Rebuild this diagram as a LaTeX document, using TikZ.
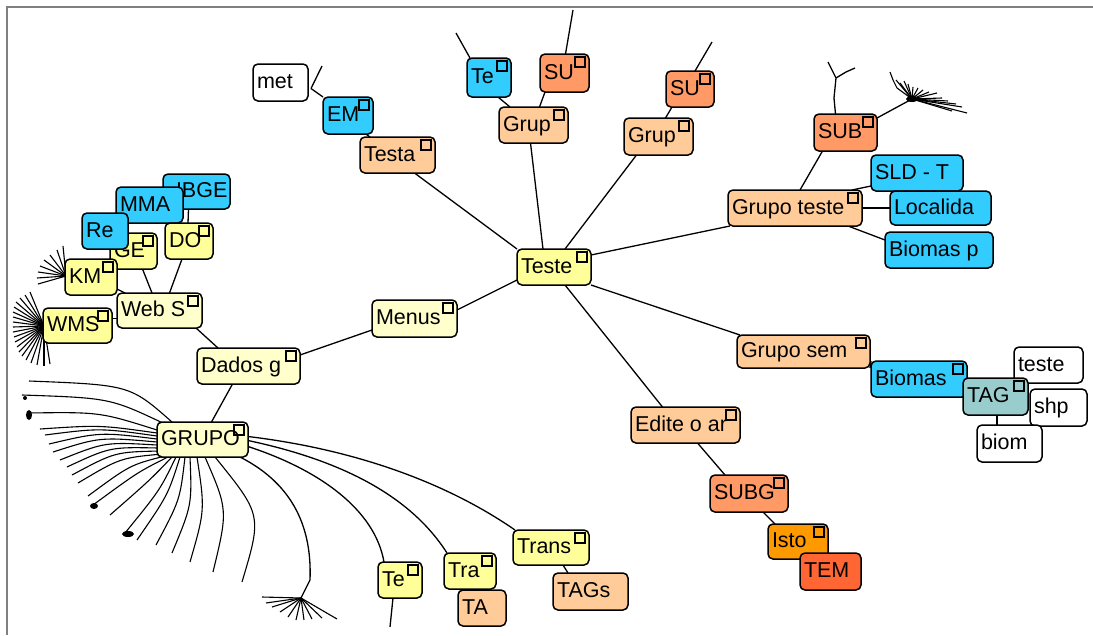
\documentclass[tikz,border=0pt]{standalone}
\usepackage{fontspec}
\setmainfont{Liberation Sans}
\pgfdeclarelayer{bg}
\pgfsetlayers{bg,main}
\definecolor{cyel}{HTML}{FFFF99}
\definecolor{cpale}{HTML}{FFFFCC}
\definecolor{clor}{HTML}{FFCC99}
\definecolor{corg}{HTML}{FF9966}
\definecolor{cblu}{HTML}{33CCFF}
\definecolor{cisto}{HTML}{FF9900}
\definecolor{ctem}{HTML}{FF6633}
\definecolor{ctag}{HTML}{99CCCC}
\definecolor{cframe}{HTML}{808080}
\tikzset{
  mm/.style={draw=black, line width=1.5pt, rounded corners=5pt, inner xsep=4pt, inner ysep=0pt,
    outer sep=0pt, text height=16pt, text depth=4pt, align=flush left,
    font=\fontsize{21.5pt}{24pt}\selectfont},
  ic/.style={draw=black, line width=1.3pt},
  ln/.style={draw=black, line width=1.3pt},
  fan/.style={draw=black, line width=1.1pt},
}
\newcommand\mmbox[8]{%
  \pgfmathsetmacro\mmH{#5-#3}%
  \pgfmathsetmacro\mmT{#4-#2-8}%
  \node[mm, fill=#6, minimum height=\mmH pt, text width=\mmT pt, anchor=north west] (#1) at (#2,#3) {#7};%
  \ifnum#8=1 \draw[ic] ({#4-14},{#3+3}) rectangle ({#4-4},{#3+13});\fi
}
\begin{document}
\begin{tikzpicture}[x=1pt,y=-1pt]
\useasboundingbox (0,0) rectangle (1093,635);

% ---------- boxes ----------
\mmbox{teste}{517}{249}{591}{285}{cyel}{Teste}{1}
\mmbox{testa}{360}{137}{435}{173}{clor}{Testa}{1}
\mmbox{em}{323}{97}{373}{134}{cblu}{EM}{1}
\mmbox{met}{253}{64}{308}{101}{white}{met}{0}
\mmbox{teb}{467}{58}{511}{97}{cblu}{Te}{1}
\mmbox{sua}{540}{54}{589}{92}{corg}{SU}{1}
\mmbox{grupa}{499}{107}{568}{143}{clor}{Grup}{1}
\mmbox{sub2}{666}{71}{714}{107}{corg}{SU}{1}
\mmbox{grupb}{624}{118}{693}{155}{clor}{Grup}{1}
\mmbox{subx}{814}{114}{877}{151}{corg}{SUB}{1}
\mmbox{gteste}{728}{190}{862}{226}{clor}{Grupo teste}{1}
\mmbox{sld}{871}{155}{963}{191}{cblu}{SLD - T}{0}
\mmbox{loc}{890}{191}{991}{225}{cblu}{Localida}{0}
\mmbox{biop}{885}{232}{993}{268}{cblu}{Biomas p}{0}
\mmbox{gsem}{737}{335}{870}{368}{clor}{Grupo sem}{1}
\mmbox{bio}{871}{361}{967}{397}{cblu}{Biomas}{1}
\mmbox{tst}{1014}{347}{1083}{383}{white}{teste}{0}
\mmbox{tag}{963}{378}{1028}{415}{ctag}{TAG}{1}
\mmbox{shp}{1030}{389}{1087}{426}{white}{shp}{0}
\mmbox{biom}{977}{425}{1042}{462}{white}{biom}{0}
\mmbox{edite}{631}{407}{740}{443}{clor}{Edite o ar}{1}
\mmbox{subg}{710}{475}{788}{512}{corg}{SUBG}{1}
\mmbox{isto}{768}{524}{828}{559}{cisto}{Isto}{1}
\mmbox{tem}{800}{553}{861}{590}{ctem}{TEM}{0}
\mmbox{menus}{372}{300}{457}{337}{cpale}{Menus}{1}
\mmbox{dados}{197}{348}{300}{384}{cpale}{Dados g}{1}
\mmbox{ibge}{163}{174}{230}{209}{cblu}{\hspace*{9pt}IBGE}{0}
\mmbox{mma}{116}{187}{183}{223}{cblu}{MMA}{0}
\mmbox{ge}{110}{233}{157}{269}{cyel}{GE}{1}
\mmbox{km}{65}{259}{117}{295}{cyel}{KM}{1}
\mmbox{re}{82}{213}{128}{249}{cblu}{Re}{0}
\mmbox{do}{165}{223}{213}{259}{cyel}{DO}{1}
\mmbox{webs}{117}{293}{202}{328}{cpale}{Web S}{1}
\mmbox{wms}{43}{308}{112}{343}{cyel}{WMS}{1}
\mmbox{grupo}{157}{422}{248}{457}{cpale}{GRUPO}{1}
\mmbox{tec}{378}{562}{422}{598}{cyel}{Te}{1}
\mmbox{tra}{444}{553}{496}{589}{cyel}{Tra}{1}
\mmbox{ta}{458}{590}{506}{626}{clor}{TA}{0}
\mmbox{trans}{513}{530}{589}{565}{cyel}{Trans}{1}
\mmbox{tags}{553}{573}{628}{610}{clor}{TAGs}{0}

% ---------- connectors ----------
\begin{pgfonlayer}{bg}
\fill[white] (0,0) rectangle (1093,635);
\draw[cframe, line width=2pt] (7,635) -- (7,7) -- (1093,7);
\coordinate (c1) at (456,33);
\coordinate (c2) at (573,10);
\coordinate (c3) at (712,42);
\coordinate (c5) at (322,66);
\coordinate (c6) at (390,627);
\coordinate (y0) at (836,78);
\coordinate (y1) at (828,62);
\coordinate (y2) at (855,68);
\coordinate (f0) at (912,99);
\coordinate (f1) at (301,598);
\coordinate (fk) at (66,276);
\coordinate (fw) at (44,326);

\draw[ln] ([xshift=17pt]testa.south) -- (teste.north west);
\draw[ln] ([xshift=-3pt]grupa.south) -- ([xshift=-11pt]teste.north);
\draw[ln] ([xshift=-22pt]grupb.south) -- ([xshift=11pt]teste.north);
\draw[ln] ([yshift=-6pt]teste.north east) -- ([xshift=2pt]gteste.south west);
\draw[ln] ([yshift=5pt]teste.south west) -- ([yshift=-10pt]menus.north east);
\draw[ln] (teste.south east) -- ([xshift=3pt]gsem.north west);
\draw[ln] ([xshift=11pt]teste.south) -- ([xshift=-23pt]edite.north);

\draw[ln] ([xshift=9pt]teb.south) -- ([xshift=11pt]grupa.north west);
\draw[ln] ([xshift=5pt]sua.south west) -- ([xshift=6pt]grupa.north);
\draw[ln] ([xshift=3pt]teb.north west) -- (c1);
\draw[ln] ([xshift=1pt]sua.north) -- (c2);
\draw[ln] ([xshift=6pt]sub2.south west) -- ([xshift=7pt]grupb.north);
\draw[ln] ([xshift=5pt]sub2.north) -- (c3);

\draw[ln] ([xshift=-7pt]em.south east) -- ([xshift=10pt]testa.north west);
\draw[ln] (em.north west) -- ([xshift=3pt,yshift=-6pt]met.east);
\draw[ln] ([xshift=3pt,yshift=-6pt]met.east) -- (c5);

\draw[ln] ([xshift=-23pt]subx.south) -- ([xshift=5pt]gteste.north);
\draw[ln] ([xshift=-10pt]gteste.north east) -- ([yshift=5pt]sld.south west);
\draw[ln] (gteste.east) -- (loc.west);
\draw[ln] ([xshift=-14pt]gteste.south east) -- ([yshift=10pt]biop.west);
\draw[ln] ([xshift=-10pt]subx.north) -- (834,98) -- (y0) -- (y1);
\draw[ln] (y0) -- (846,72) -- (y2);
\draw[ln] ([yshift=-4pt]subx.north east) -- (f0);
\draw[fan] (f0) -- (897,88) -- (893,80) -- (890,72);
\foreach \p in {(896,80),(900,83),(904,81),(908,84),(913,87),(918,88),(923,90),(929,92),(937,93),(942,98),(948,101),(956,104),(962,107),(967,113),(952,111)}
  \draw[fan] (f0) -- \p;
\fill (f0) ellipse (6 and 3);

\draw[ln] (gsem.south east) -- (bio.north west);
\draw[ln] (bio.east) -- (tag.west);
\draw[ln] (tag.north east) -- (tst.south west);
\draw[ln] ([xshift=1.5pt]tag.south) -- ([xshift=-12.5pt]biom.north);

\draw[ln] ([xshift=12pt]edite.south) -- ([xshift=15pt]subg.north west);
\draw[ln] ([xshift=14pt]subg.south) -- ([xshift=7pt]isto.north west);
\draw[ln] (isto) -- (tem);

\draw[ln] ([yshift=-7pt]dados.north east) -- ([yshift=7pt]menus.south west);
\draw[ln] ([xshift=-6pt]webs.south east) -- ([xshift=21pt]dados.north west);
\draw[ln] ([xshift=-16pt]dados.south) -- ([xshift=9pt]grupo.north);
\draw[ln] ([xshift=35pt]webs.north west) -- ([xshift=9pt]ge.south);
\draw[ln] ([xshift=10pt]webs.north) -- ([xshift=-7pt]do.south);
\draw[ln] ([xshift=-1pt]do.north) -- ([xshift=-8pt]ibge.south);
\draw[ln] ([yshift=-12pt]km.east) -- ([xshift=8pt]webs.north west);
\draw[ln] ([yshift=7pt]wms.east) -- ([yshift=-8pt]webs.west);

\foreach \p in {(63,246),(57,250),(50,255),(44,260),(40,266),(38,272),(37,278),(38,284)}
  \draw[fan] (fk) -- \p;
\foreach \p in {(30,292),(25,295),(20,298),(16,302),(14,307),(13,312),(13,317),(13,322),(13,327),(13,332),(14,337),(15,342),(17,347),(19,352),(22,356),(26,360),(31,363),(37,365),(44,366),(50,364)}
  \draw[fan] (fw) -- \p;

% GRUPO fan
\foreach \sx/\sy/\cx/\cy/\ex/\ey in {
  172/422/130/385/29/381, 165/424/110/398/22/395, 157/430/100/412/28/413,
  157/433/100/425/40/429, 157/436/100/428/45/435, 157/439/100/432/49/444,
  157/442/100/437/53/452, 157/445/105/442/60/460, 158/448/110/447/67/467,
  160/451/115/452/72/475, 162/454/120/458/78/483, 165/456/130/465/88/496,
  168/457/138/472/93/505, 172/457/150/480/110/515, 176/457/160/490/125/533,
  180/457/168/495/137/540, 185/457/180/500/156/545, 190/457/192/505/172/553,
  197/457/205/510/190/562, 205/457/228/510/213/572, 215/457/262/515/242/582}
  \draw[fan] (\sx,\sy) .. controls (\cx,\cy) .. (\ex,\ey);
\fill (25,398) circle (2);
\fill (29,415) ellipse (3 and 5);
\fill (94,506) ellipse (4 and 3);
\fill (128,534) ellipse (6 and 3);
\draw[ln] (240,457) .. controls (295,485) and (312,530) .. (310,580) -- (f1);
\foreach \p in {(262,597),(266,603),(272,607),(280,612),(288,617),(296,620),(304,620),(312,619),(322,618),(337,619)}
  \draw[fan] (f1) -- \p;

\draw[ln] ([yshift=-7pt]grupo.east) .. controls (320,470) and (375,510) .. ([xshift=6pt]tec.north west);
\draw[ln] ([yshift=-1pt]grupo.east) .. controls (340,460) and (410,495) .. ([xshift=-23pt]tra.north);
\draw[ln] ([yshift=3pt]grupo.east) .. controls (360,450) and (450,485) .. ([xshift=2pt]trans.north west);
\draw[ln] ([xshift=-7pt]tec.south) -- (c6);
\draw[ln] (tra) -- (ta);
\draw[ln] ([xshift=50pt]trans.south west) -- ([xshift=15pt]tags.north west);
\end{pgfonlayer}
\end{tikzpicture}
\end{document}
